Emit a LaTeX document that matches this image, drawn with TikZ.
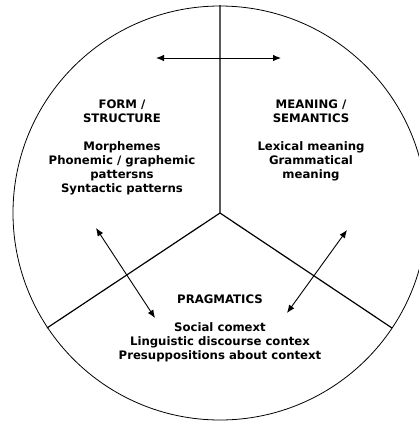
\documentclass[tikz,border=0pt]{standalone}
\usepackage{fontspec}
\setsansfont{DejaVu Sans}
\usetikzlibrary{arrows.meta}

\begin{document}
\begin{tikzpicture}[x=1pt,y=-1pt,
  head/.style={font=\sffamily\bfseries\fontsize{11.7}{14}\selectfont,align=center,inner sep=0pt},
  body/.style={head},
  link/.style={{Latex[length=8pt,width=6.5pt]}-{Latex[length=8pt,width=6.5pt]},line width=0.9pt}]
\useasboundingbox (0,0) rectangle (419,421);
\clip (0,0) rectangle (419,421);
% circle and spokes
\coordinate (mid) at (220,213);
\coordinate (top) at (220,5);
\coordinate (left) at (47,328);
\coordinate (right) at (392,328);
\draw[line width=0.8pt] (mid) circle (207pt);
\draw[line width=1.2pt] (mid) -- (top) (mid) -- (left) (mid) -- (right);
% texts
\node[head] (form) at (122,111) {FORM /\\STRUCTURE};
\node[body,anchor=north] (formtxt) at (122,141) {Morphemes\\Phonemic / graphemic\\pattersns\\Syntactic patterns};
\node[head] (mean) at (311,111) {MEANING /\\SEMANTICS};
\node[body,anchor=north] (meantxt) at (311,141) {Lexical meaning\\Grammatical\\meaning};
\node[head] (prag) at (220,299) {PRAGMATICS};
\node[body,anchor=north] (pragtxt) at (220,322) {Social comext\\Linguistic discourse contex\\Presuppositions about context};
% arrows
\coordinate (h1) at (156,58);
\coordinate (h2) at (281,58);
\coordinate (l1) at (96,228);
\coordinate (l2) at (155,318);
\coordinate (r1) at (347,230);
\coordinate (r2) at (287,313);
\draw[link] (h1) -- (h2);
\draw[link] (l1) -- (l2);
\draw[link] (r1) -- (r2);
\end{tikzpicture}
\end{document}
